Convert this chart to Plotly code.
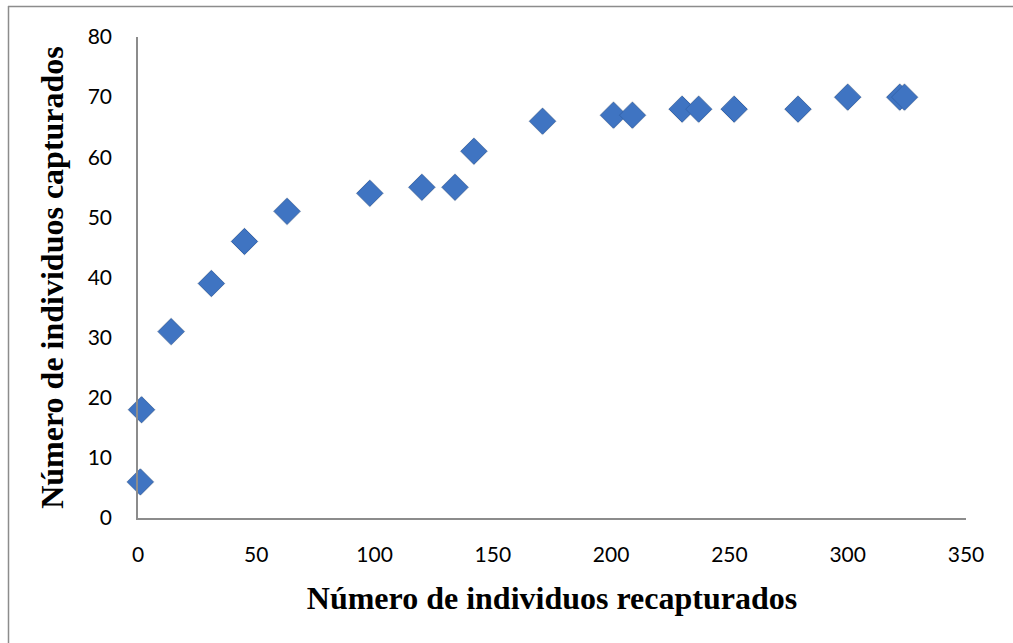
import plotly.graph_objects as go

recapturados = [1, 1.5, 14, 31, 45, 63, 98, 120, 134, 142, 171, 201, 209, 230, 237, 252, 279, 300, 322, 324]
capturados = [6, 18, 31, 39, 46, 51, 54, 55, 55, 61, 66, 67, 67, 68, 68, 68, 68, 70, 70, 70]
x_ticks = [0, 50, 100, 150, 200, 250, 300, 350]
y_ticks = [0, 10, 20, 30, 40, 50, 60, 70, 80]

W, H = 1013, 643
L, R, T, B = 138, 47, 37, 125

fig = go.Figure()
# soft shadow
fig.add_trace(go.Scatter(
    x=recapturados, y=capturados, mode="markers",
    marker=dict(symbol="diamond", size=22, color="rgba(0,0,0,0.12)", line=dict(width=0)),
    hoverinfo="skip", showlegend=False, cliponaxis=False,
))
fig.add_trace(go.Scatter(
    x=recapturados, y=capturados, mode="markers",
    marker=dict(symbol="diamond", size=20, color="#3f74c2",
                line=dict(color="#3465ad", width=1)),
    showlegend=False, cliponaxis=False,
))

tickfont = dict(family="Lato, Open Sans, sans-serif", size=21, color="#000000")
titlefont = dict(family="Liberation Serif, Times New Roman, serif", size=32, color="#000")
fig.update_xaxes(
    range=[0, 350], tickvals=x_ticks, ticktext=[str(v) for v in x_ticks],
    showgrid=False, zeroline=False, showline=True, linecolor="#8c8c8c", linewidth=1.5,
    ticks="", tickfont=tickfont, ticklabelstandoff=17, automargin=False,
    title=dict(text="<b>Número de individuos recapturados</b>", font=titlefont, standoff=22),
)
fig.update_yaxes(
    range=[0, 80], tickvals=y_ticks, ticktext=[str(v) for v in y_ticks],
    showgrid=False, zeroline=False, showline=True, linecolor="#8c8c8c", linewidth=1.5,
    ticks="", tickfont=tickfont, ticklabelstandoff=20, automargin=False,
    title=dict(text="<b>Número de individuos capturados</b>", font=titlefont, standoff=14),
)

pw = W - L - R
ph = H - T - B
def px_x(p):
    return (p - L) / pw
def px_y(p):
    return (H - B - p) / ph

fig.add_shape(type="line", xref="paper", yref="paper",
              x0=px_x(8), x1=px_x(1013), y0=px_y(6.5), y1=px_y(6.5),
              line=dict(color="#8c8c8c", width=1.5))
fig.add_shape(type="line", xref="paper", yref="paper",
              x0=px_x(8.5), x1=px_x(8.5), y0=px_y(6), y1=px_y(643),
              line=dict(color="#8c8c8c", width=1.5))

fig.update_layout(
    width=W, height=H,
    margin=dict(l=L, r=R, t=T, b=B, autoexpand=False),
    plot_bgcolor="white", paper_bgcolor="white",
)
fig.write_html("out.html", config={"displayModeBar": False},
               post_script="document.body.style.margin='0';document.body.style.overflow='hidden';")
